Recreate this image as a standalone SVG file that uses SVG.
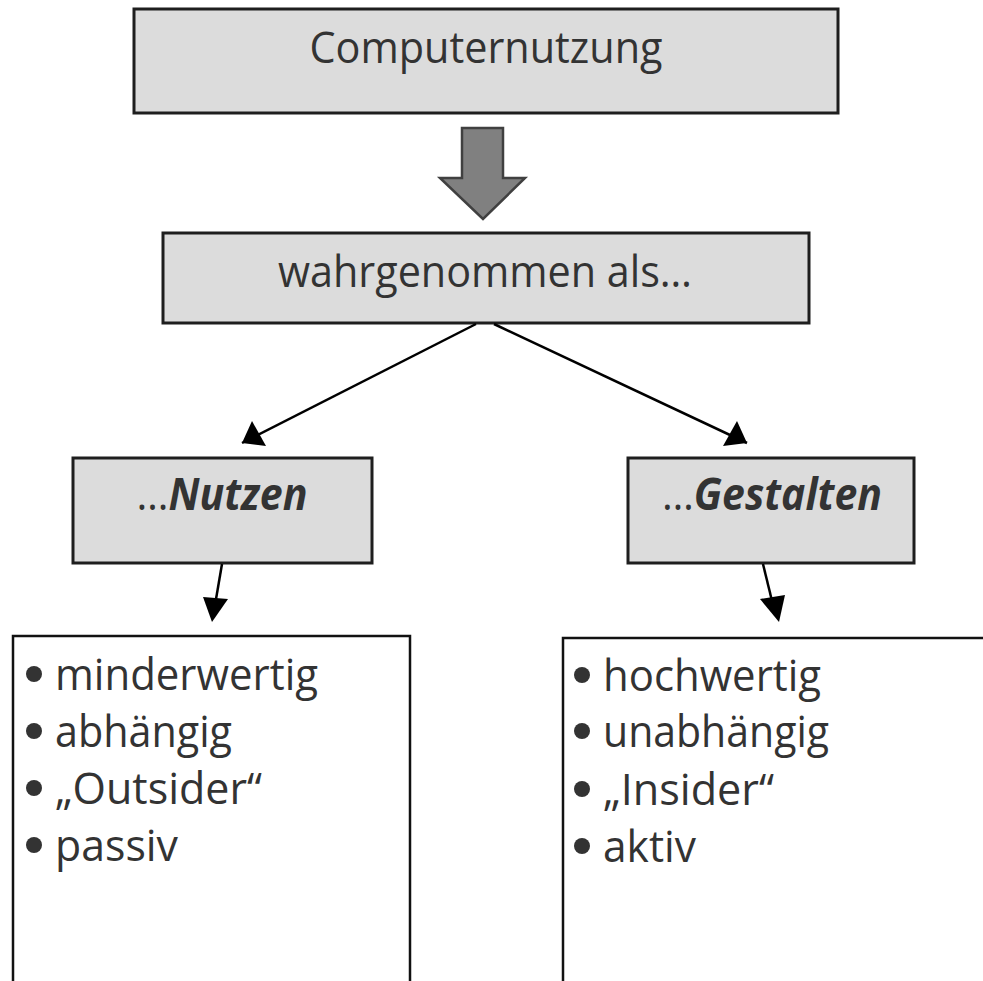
<svg xmlns="http://www.w3.org/2000/svg" width="983" height="981" viewBox="0 0 983 981">
<style>
.box{fill:#dcdcdc;stroke:#1e1e1e;stroke-width:3}
.list{fill:#ffffff;stroke:#111;stroke-width:2.5}
.t{font-family:"Open Sans","Noto Sans","Liberation Sans",sans-serif;fill:#333;font-size:44px}
.c{text-anchor:middle}
.bi{font-weight:bold;font-style:italic}
.ln{stroke:#000;stroke-width:2.5;fill:none}
.dot{fill:#333}
</style>
<rect width="983" height="981" fill="#fff"/>
<g id="computernutzung">
<rect class="box" x="134" y="9" width="704" height="104"/>
<text class="t c" x="486" y="63" textLength="353" lengthAdjust="spacingAndGlyphs">Computernutzung</text>
</g>
<g id="block-arrow">
<path d="M462,128 L503,128 L503,178 L525,178 L483,219 L440,178 L462,178 Z" fill="#808080" stroke="#404040" stroke-width="2.5"/>
</g>
<g id="wahrgenommen">
<rect class="box" x="163" y="233" width="646" height="90"/>
<text class="t c" x="485" y="287" textLength="414" lengthAdjust="spacingAndGlyphs">wahrgenommen als…</text>
</g>
<g id="nutzen">
<rect class="box" x="73" y="458" width="299" height="105"/>
<text class="t c" x="222" y="510" textLength="171" lengthAdjust="spacingAndGlyphs">…<tspan class="bi">Nutzen</tspan></text>
</g>
<g id="gestalten">
<rect class="box" x="628" y="458" width="286" height="105"/>
<text class="t c" x="772" y="510" textLength="220" lengthAdjust="spacingAndGlyphs">…<tspan class="bi">Gestalten</tspan></text>
</g>
<g id="connectors">
<line class="ln" x1="476" y1="324" x2="242" y2="443"/>
<path d="M242,443 L252,421 L266,446 Z" fill="#000"/>
<line class="ln" x1="494" y1="324" x2="747" y2="443"/>
<path d="M747,443 L723,446 L737,421 Z" fill="#000"/>
<line class="ln" x1="222" y1="564" x2="215" y2="605"/>
<path d="M212,622 L203,597 L228,599 Z" fill="#000"/>
<line class="ln" x1="763" y1="564" x2="773" y2="605"/>
<path d="M779,622 L760,599 L785,595 Z" fill="#000"/>
</g>
<g id="list-left">
<rect class="list" x="13" y="636" width="397" height="360"/>
<circle class="dot" cx="34" cy="674" r="8"/>
<text class="t" x="55" y="690" textLength="263" lengthAdjust="spacingAndGlyphs">minderwertig</text>
<circle class="dot" cx="34" cy="731" r="8"/>
<text class="t" x="55" y="747" textLength="177" lengthAdjust="spacingAndGlyphs">abhängig</text>
<circle class="dot" cx="34" cy="788" r="8"/>
<text class="t" x="55" y="804" textLength="207" lengthAdjust="spacingAndGlyphs">„Outsider“</text>
<circle class="dot" cx="34" cy="845" r="8"/>
<text class="t" x="55" y="861" textLength="123" lengthAdjust="spacingAndGlyphs">passiv</text>
</g>
<g id="list-right">
<rect class="list" x="563" y="638" width="440" height="360"/>
<circle class="dot" cx="582" cy="675" r="8"/>
<text class="t" x="603" y="691" textLength="218" lengthAdjust="spacingAndGlyphs">hochwertig</text>
<circle class="dot" cx="582" cy="731" r="8"/>
<text class="t" x="603" y="747" textLength="226" lengthAdjust="spacingAndGlyphs">unabhängig</text>
<circle class="dot" cx="582" cy="789" r="8"/>
<text class="t" x="603" y="805" textLength="171" lengthAdjust="spacingAndGlyphs">„Insider“</text>
<circle class="dot" cx="582" cy="846" r="8"/>
<text class="t" x="603" y="862" textLength="93" lengthAdjust="spacingAndGlyphs">aktiv</text>
</g>
</svg>
